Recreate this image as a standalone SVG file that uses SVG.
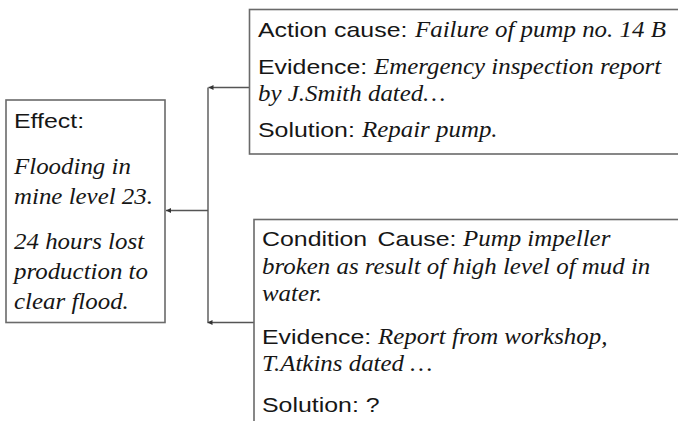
<svg xmlns="http://www.w3.org/2000/svg" width="678" height="421" viewBox="0 0 678 421">
<defs>
<marker id="arr" viewBox="0 0 6 6" refX="6" refY="3" markerWidth="6" markerHeight="5" markerUnits="userSpaceOnUse" orient="auto">
<path d="M0,0 L6,3 L0,6 z" fill="#333"/>
</marker>
<style>
.box{fill:#fff;stroke:#6a6a6a;stroke-width:1.6}
.con{fill:none;stroke:#555;stroke-width:1.4}
.s{font-family:"Liberation Sans",Arial,Helvetica,sans-serif;font-size:21px;fill:#161616}
.i{font-family:"Liberation Serif","Times New Roman",serif;font-style:italic;font-size:23px;fill:#161616}
</style>
</defs>
<rect width="678" height="421" fill="#fff"/>
<g id="connectors">
<path class="con" d="M208,87.5 V322.5"/>
<path class="con" d="M249.5,87.5 H208.5" marker-end="url(#arr)"/>
<path class="con" d="M208,210.5 H166" marker-end="url(#arr)"/>
<path class="con" d="M254,322.5 H207.5" marker-end="url(#arr)"/>
</g>
<g id="effect">
<rect class="box" x="6" y="100" width="159" height="222.5"/>
<text class="s" transform="translate(14,128) scale(1.186,1)">Effect:</text>
<text class="i" transform="translate(14,174) scale(1.083,1)">Flooding in</text>
<text class="i" transform="translate(14,203.5) scale(1.083,1)">mine level 23.</text>
<text class="i" transform="translate(14,249) scale(1.083,1)">24 hours lost</text>
<text class="i" transform="translate(14,279) scale(1.083,1)">production to</text>
<text class="i" transform="translate(14,309) scale(1.083,1)">clear flood.</text>
</g>
<g id="action-cause">
<rect class="box" x="249.5" y="9.5" width="440" height="144.5"/>
<text class="s" transform="translate(258,36.5) scale(1.186,1)">Action cause:</text>
<text class="i" transform="translate(415,36.5) scale(1.083,1)">Failure of pump no. 14 B</text>
<text class="s" transform="translate(258,74) scale(1.186,1)">Evidence:</text>
<text class="i" transform="translate(374,74) scale(1.083,1)">Emergency inspection report</text>
<text class="i" transform="translate(258,101) scale(1.083,1)">by J.Smith dated…</text>
<text class="s" transform="translate(258,137) scale(1.186,1)">Solution:</text>
<text class="i" transform="translate(362,137) scale(1.083,1)">Repair pump.</text>
</g>
<g id="condition-cause">
<rect class="box" x="254" y="219.5" width="440" height="250"/>
<text class="s" transform="translate(262,246) scale(1.186,1)">Condition <tspan dx="3">Cause:</tspan></text>
<text class="i" transform="translate(463,246) scale(1.083,1)">Pump impeller</text>
<text class="i" transform="translate(262,274) scale(1.083,1)">broken as result of high level of mud in</text>
<text class="i" transform="translate(262,301) scale(1.083,1)">water.</text>
<text class="s" transform="translate(262,344) scale(1.186,1)">Evidence:</text>
<text class="i" transform="translate(378,344) scale(1.083,1)">Report from workshop,</text>
<text class="i" transform="translate(262,371) scale(1.083,1)">T.Atkins dated …</text>
<text class="s" transform="translate(262,412) scale(1.186,1)">Solution: ?</text>
</g>
</svg>
